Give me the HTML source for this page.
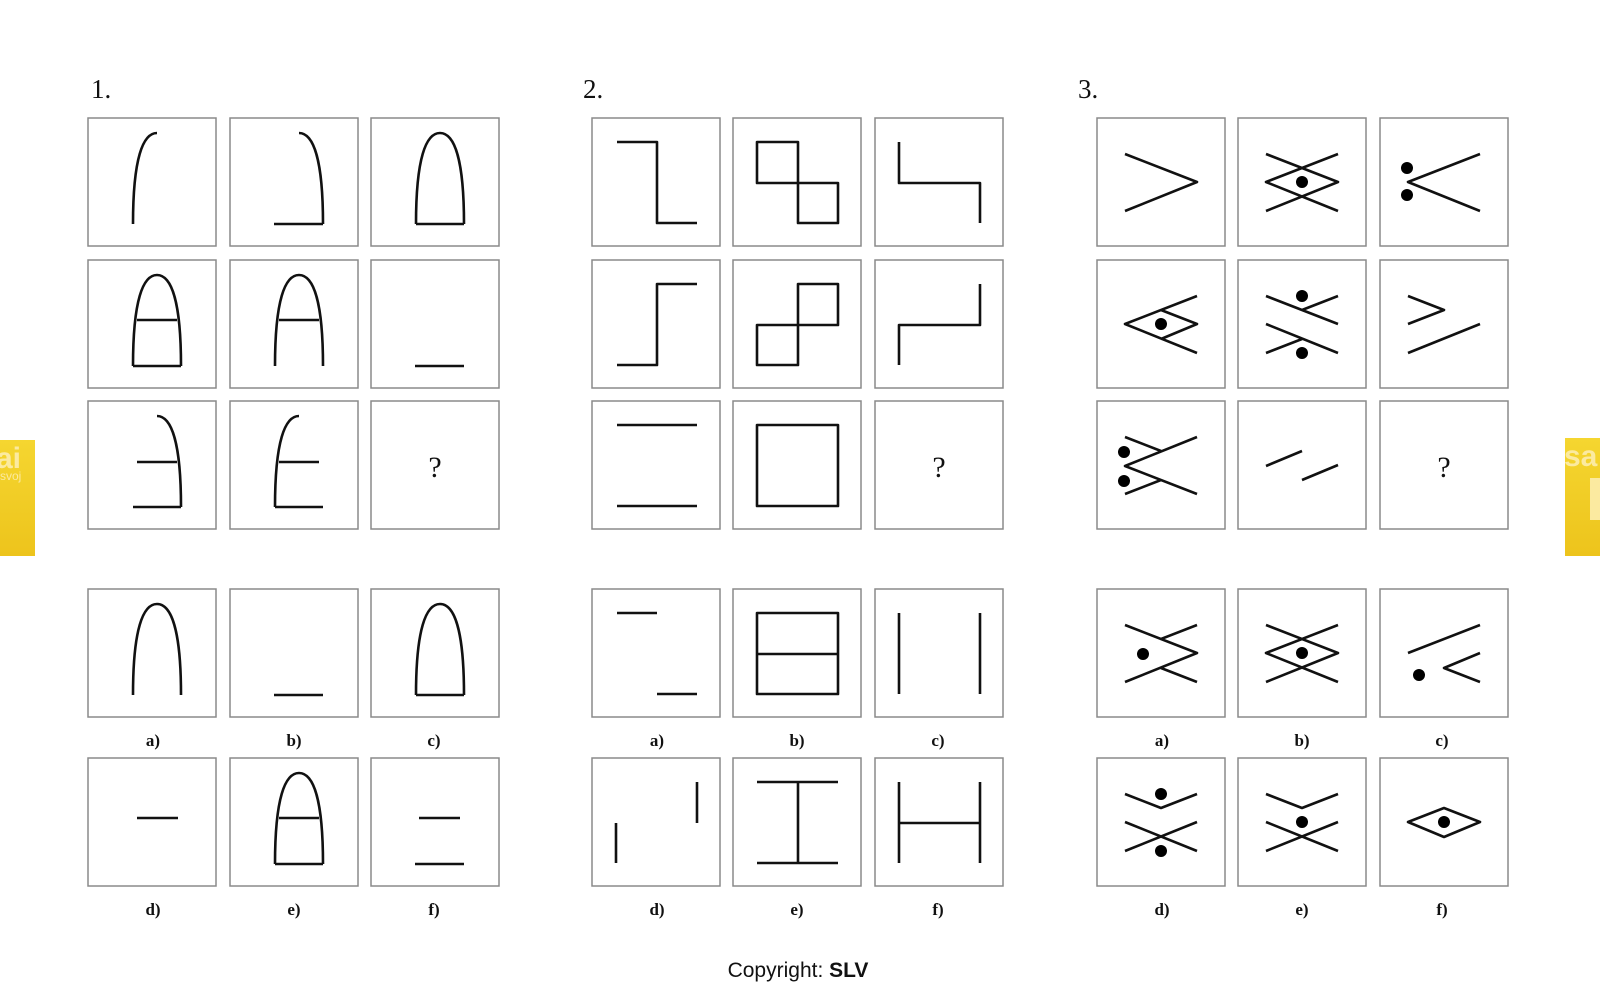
<!DOCTYPE html>
<html><head><meta charset="utf-8"><style>
html,body{margin:0;padding:0;background:#fff;width:1600px;height:1000px;overflow:hidden}
svg{display:block}
</style></head><body>
<svg width="1600" height="1000" viewBox="0 0 1600 1000" xmlns="http://www.w3.org/2000/svg">
<defs>
<linearGradient id="yg" x1="0" y1="0" x2="0" y2="1"><stop offset="0" stop-color="#f5d630"/><stop offset="1" stop-color="#edc41c"/></linearGradient>
<path id="dome" d="M45,106 C45,40 55,15 69,15 C83,15 93,40 93,106"/>
<path id="lh" d="M45,106 C45,40 55,15 69,15"/>
<path id="rh" d="M69,15 C83,15 93,40 93,106"/>
</defs>
<!-- yellow badges -->
<rect x="0" y="440" width="35" height="116" fill="url(#yg)"/>
<text x="-4" y="468" font-family="Liberation Sans" font-weight="bold" font-size="30" fill="#fbeaa0">ai</text>
<text x="0" y="480" font-family="Liberation Sans" font-size="12" fill="#fbeaa0">svoj</text>
<rect x="1565" y="438" width="35" height="118" fill="url(#yg)"/>
<text x="1564" y="466" font-family="Liberation Sans" font-weight="bold" font-size="30" fill="#fbeaa0">sa</text>
<rect x="1590" y="478" width="10" height="42" fill="#fbeaa0"/>

<g font-family="Liberation Serif" font-size="27" fill="#111">
<text x="91" y="98">1.</text><text x="583" y="98">2.</text><text x="1078" y="98">3.</text>
</g>

<g fill="#fff" stroke="#8a8a8a" stroke-width="1.5">
<!-- panel 1 -->
<rect x="88" y="118" width="128" height="128"/><rect x="230" y="118" width="128" height="128"/><rect x="371" y="118" width="128" height="128"/>
<rect x="88" y="260" width="128" height="128"/><rect x="230" y="260" width="128" height="128"/><rect x="371" y="260" width="128" height="128"/>
<rect x="88" y="401" width="128" height="128"/><rect x="230" y="401" width="128" height="128"/><rect x="371" y="401" width="128" height="128"/>
<rect x="88" y="589" width="128" height="128"/><rect x="230" y="589" width="128" height="128"/><rect x="371" y="589" width="128" height="128"/>
<rect x="88" y="758" width="128" height="128"/><rect x="230" y="758" width="128" height="128"/><rect x="371" y="758" width="128" height="128"/>
<!-- panel 2 -->
<rect x="592" y="118" width="128" height="128"/><rect x="733" y="118" width="128" height="128"/><rect x="875" y="118" width="128" height="128"/>
<rect x="592" y="260" width="128" height="128"/><rect x="733" y="260" width="128" height="128"/><rect x="875" y="260" width="128" height="128"/>
<rect x="592" y="401" width="128" height="128"/><rect x="733" y="401" width="128" height="128"/><rect x="875" y="401" width="128" height="128"/>
<rect x="592" y="589" width="128" height="128"/><rect x="733" y="589" width="128" height="128"/><rect x="875" y="589" width="128" height="128"/>
<rect x="592" y="758" width="128" height="128"/><rect x="733" y="758" width="128" height="128"/><rect x="875" y="758" width="128" height="128"/>
<!-- panel 3 -->
<rect x="1097" y="118" width="128" height="128"/><rect x="1238" y="118" width="128" height="128"/><rect x="1380" y="118" width="128" height="128"/>
<rect x="1097" y="260" width="128" height="128"/><rect x="1238" y="260" width="128" height="128"/><rect x="1380" y="260" width="128" height="128"/>
<rect x="1097" y="401" width="128" height="128"/><rect x="1238" y="401" width="128" height="128"/><rect x="1380" y="401" width="128" height="128"/>
<rect x="1097" y="589" width="128" height="128"/><rect x="1238" y="589" width="128" height="128"/><rect x="1380" y="589" width="128" height="128"/>
<rect x="1097" y="758" width="128" height="128"/><rect x="1238" y="758" width="128" height="128"/><rect x="1380" y="758" width="128" height="128"/>
</g>

<g fill="none" stroke="#111" stroke-width="2.6" stroke-linejoin="round">
<!-- panel 1 grid -->
<g transform="translate(88,118)"><use href="#lh"/></g>
<g transform="translate(230,118)"><use href="#rh"/><path d="M44,106H93"/></g>
<g transform="translate(371,118)"><use href="#dome"/><path d="M45,106H93"/></g>
<g transform="translate(88,260)"><use href="#dome"/><path d="M45,106H93M49,60H89"/></g>
<g transform="translate(230,260)"><use href="#dome"/><path d="M49,60H89"/></g>
<g transform="translate(371,260)"><path d="M44,106H93"/></g>
<g transform="translate(88,401)"><use href="#rh"/><path d="M45,106H93M49,61H89"/></g>
<g transform="translate(230,401)"><use href="#lh"/><path d="M45,106H93M49,61H89"/></g>
<!-- panel 1 answers -->
<g transform="translate(88,589)"><use href="#dome"/></g>
<g transform="translate(230,589)"><path d="M44,106H93"/></g>
<g transform="translate(371,589)"><use href="#dome"/><path d="M45,106H93"/></g>
<g transform="translate(88,758)"><path d="M49,60H90"/></g>
<g transform="translate(230,758)"><use href="#dome"/><path d="M45,106H93M49,60H89"/></g>
<g transform="translate(371,758)"><path d="M48,60H89M44,106H93"/></g>

<!-- panel 2 grid -->
<g transform="translate(592,118)"><path d="M25,24H65V105H105"/></g>
<g transform="translate(733,118)"><path d="M24,24H65V105H105V65H24Z"/></g>
<g transform="translate(875,118)"><path d="M24,24V65H105V105"/></g>
<g transform="translate(592,260)"><path d="M25,105H65V24H105"/></g>
<g transform="translate(733,260)"><path d="M65,24H105V65H24V105H65Z"/></g>
<g transform="translate(875,260)"><path d="M24,105V65H105V24"/></g>
<g transform="translate(592,401)"><path d="M25,24H105M25,105H105"/></g>
<g transform="translate(733,401)"><rect x="24" y="24" width="81" height="81"/></g>
<!-- panel 2 answers -->
<g transform="translate(592,589)"><path d="M25,24H65M65,105H105"/></g>
<g transform="translate(733,589)"><rect x="24" y="24" width="81" height="81"/><path d="M24,65H105"/></g>
<g transform="translate(875,589)"><path d="M24,24V105M105,24V105"/></g>
<g transform="translate(592,758)"><path d="M24,65V105M105,24V65"/></g>
<g transform="translate(733,758)"><path d="M24,24H105M24,105H105M65,24V105"/></g>
<g transform="translate(875,758)"><path d="M24,24V105M105,24V105M24,65H105"/></g>

<!-- panel 3 grid -->
<g transform="translate(1097,118)"><path d="M28,36L100,64L28,93"/></g>
<g transform="translate(1238,118)"><path d="M28,36L100,64L28,93M100,36L28,64L100,93"/></g>
<g transform="translate(1380,118)"><path d="M100,36L28,64L100,93"/></g>
<g transform="translate(1097,260)"><path d="M100,36L28,64L100,93M64,50L100,64L64,79"/></g>
<g transform="translate(1238,260)"><path d="M28,36L100,64M64,50L100,36M28,64L100,93M28,93L64,79"/></g>
<g transform="translate(1380,260)"><path d="M28,36L64,50L28,64M28,93L100,64"/></g>
<g transform="translate(1097,401)"><path d="M100,36L28,65L100,93M28,36L64,50M28,93L64,79"/></g>
<g transform="translate(1238,401)"><path d="M28,65L64,50M64,79L100,64"/></g>
<!-- panel 3 answers -->
<g transform="translate(1097,589)"><path d="M28,36L100,64L28,93M64,50L100,36M64,79L100,93"/></g>
<g transform="translate(1238,589)"><path d="M28,36L100,64L28,93M100,36L28,64L100,93"/></g>
<g transform="translate(1380,589)"><path d="M28,64L100,36M100,64L64,79L100,93"/></g>
<g transform="translate(1097,758)"><path d="M28,36L64,50L100,36M28,64L100,93M28,93L100,64"/></g>
<g transform="translate(1238,758)"><path d="M28,36L64,50L100,36M28,64L100,93M28,93L100,64"/></g>
<g transform="translate(1380,758)"><path d="M28,64L64,50L100,64L64,79Z"/></g>
</g>

<g fill="#000">
<circle cx="1302" cy="182" r="6"/>
<circle cx="1407" cy="168" r="6"/><circle cx="1407" cy="195" r="6"/>
<circle cx="1161" cy="324" r="6"/>
<circle cx="1302" cy="296" r="6"/><circle cx="1302" cy="353" r="6"/>
<circle cx="1124" cy="452" r="6"/><circle cx="1124" cy="481" r="6"/>
<circle cx="1143" cy="654" r="6"/>
<circle cx="1302" cy="653" r="6"/>
<circle cx="1419" cy="675" r="6"/>
<circle cx="1161" cy="794" r="6"/><circle cx="1161" cy="851" r="6"/>
<circle cx="1302" cy="822" r="6"/>
<circle cx="1444" cy="822" r="6"/>
</g>

<g font-family="Liberation Serif" font-size="30" fill="#111" text-anchor="middle">
<text x="435" y="477">?</text><text x="939" y="477">?</text><text x="1444" y="477">?</text>
</g>

<g font-family="Liberation Serif" font-weight="bold" font-size="17" fill="#111" text-anchor="middle">
<text x="153" y="746">a)</text><text x="294" y="746">b)</text><text x="434" y="746">c)</text>
<text x="153" y="915">d)</text><text x="294" y="915">e)</text><text x="434" y="915">f)</text>
<text x="657" y="746">a)</text><text x="797" y="746">b)</text><text x="938" y="746">c)</text>
<text x="657" y="915">d)</text><text x="797" y="915">e)</text><text x="938" y="915">f)</text>
<text x="1162" y="746">a)</text><text x="1302" y="746">b)</text><text x="1442" y="746">c)</text>
<text x="1162" y="915">d)</text><text x="1302" y="915">e)</text><text x="1442" y="915">f)</text>
</g>

<text x="798" y="977" font-family="Liberation Sans" font-size="21" fill="#111" text-anchor="middle">Copyright: <tspan font-weight="bold">SLV</tspan></text>
</svg>
</body></html>
